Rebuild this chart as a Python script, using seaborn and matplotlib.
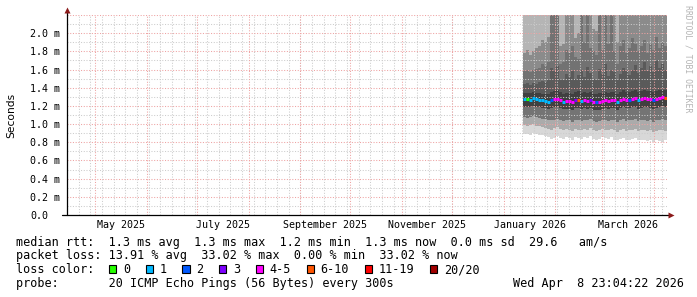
import numpy as np
import pandas as pd
import matplotlib
matplotlib.use("Agg")
import matplotlib.pyplot as plt
import matplotlib.dates as mdates
from matplotlib.patches import Rectangle
import seaborn as sns

sns.set_theme(style="white")
plt.rcParams['font.family'] = ['DejaVu Sans Mono', 'DejaVu Sans']

# ---------------- data (ms) ----------------
median = [1.275, 1.275, 1.27, 1.285, 1.275, 1.27, 1.26, 1.25, 1.245, 1.26,
          1.275, 1.28, 1.26, 1.245, 1.25, 1.25, 1.245, 1.26, 1.265, 1.25,
          1.26, 1.255, 1.265, 1.245, 1.24, 1.245, 1.255, 1.26, 1.25, 1.265,
          1.26, 1.24, 1.265, 1.28, 1.265, 1.265, 1.28, 1.285, 1.26, 1.275,
          1.285, 1.28, 1.275, 1.265, 1.28, 1.285, 1.30, 1.29]
loss = [1, 0, 1, 1, 1, 1, 1, 1, 1, 2,
        4, 5, 4, 1, 4, 5, 4, 3, 6, 1,
        4, 5, 3, 4, 2, 4, 4, 5, 4, 4,
        5, 1, 4, 5, 4, 2, 4, 5, 1, 4,
        4, 5, 4, 2, 4, 5, 4, 6]
ping_max = [2.9, 3.0, 2.9, 3.1, 3.0, 2.9, 3.0, 3.1, 3.0, 3.2,
            3.1, 3.2, 2.9, 3.0, 3.1, 3.0, 3.1, 2.9, 3.0, 3.1,
            3.0, 3.2, 3.0, 2.9, 3.0, 3.1, 3.0, 3.2, 3.1, 3.1,
            3.0, 2.9, 3.0, 3.1, 3.0, 3.0, 3.1, 3.0, 3.0, 3.1,
            3.0, 3.0, 3.1, 3.0, 3.1, 3.0, 3.1, 3.0]
hi4 = [1.78, 1.82, 1.76, 1.80, 1.84, 1.86, 1.92, 1.90, 1.96, 2.80,
       2.70, 2.85, 1.86, 1.88, 2.40, 2.50, 2.45, 1.95, 2.00, 2.60,
       2.45, 2.70, 2.40, 2.05, 2.02, 2.60, 2.45, 2.75, 2.50, 2.65,
       2.40, 1.90, 2.45, 2.50, 2.40, 2.48, 2.55, 2.45, 2.40, 2.50,
       2.45, 2.42, 2.50, 2.40, 2.55, 2.45, 2.50, 2.48]
hi3 = [1.58, 1.60, 1.57, 1.60, 1.61, 1.62, 1.66, 1.64, 1.68, 2.45,
       2.40, 2.50, 1.66, 1.68, 1.82, 1.78, 1.86, 1.74, 1.72, 2.35,
       1.90, 2.40, 1.84, 1.80, 1.76, 2.30, 1.82, 2.45, 1.88, 2.32,
       1.80, 1.66, 1.86, 1.92, 1.78, 1.84, 1.95, 1.88, 1.80, 1.86,
       1.92, 1.78, 1.88, 1.82, 1.96, 1.84, 1.90, 1.86]
hi2 = [1.44, 1.45, 1.43, 1.45, 1.44, 1.46, 1.47, 1.46, 1.48, 1.62,
       1.58, 1.64, 1.50, 1.48, 1.55, 1.52, 1.58, 1.50, 1.54, 1.60,
       1.52, 1.63, 1.56, 1.50, 1.49, 1.61, 1.55, 1.66, 1.53, 1.60,
       1.57, 1.48, 1.55, 1.62, 1.58, 1.54, 1.60, 1.65, 1.56, 1.62,
       1.68, 1.58, 1.64, 1.57, 1.70, 1.62, 1.66, 1.60]
hi1 = [1.34, 1.34, 1.34, 1.35, 1.34, 1.34, 1.33, 1.33, 1.33, 1.35,
       1.36, 1.37, 1.35, 1.33, 1.34, 1.34, 1.33, 1.35, 1.36, 1.34,
       1.35, 1.34, 1.35, 1.33, 1.33, 1.34, 1.34, 1.35, 1.34, 1.35,
       1.35, 1.33, 1.35, 1.37, 1.35, 1.35, 1.36, 1.37, 1.35, 1.36,
       1.37, 1.36, 1.36, 1.35, 1.36, 1.37, 1.38, 1.38]
lo1 = [1.19, 1.19, 1.19, 1.20, 1.19, 1.19, 1.18, 1.18, 1.17, 1.18,
       1.19, 1.19, 1.18, 1.17, 1.17, 1.17, 1.16, 1.18, 1.18, 1.17,
       1.18, 1.17, 1.18, 1.16, 1.16, 1.16, 1.17, 1.18, 1.17, 1.18,
       1.18, 1.16, 1.18, 1.19, 1.18, 1.18, 1.19, 1.19, 1.17, 1.18,
       1.19, 1.19, 1.18, 1.17, 1.18, 1.19, 1.20, 1.19]
lo2 = [1.08, 1.07, 1.08, 1.09, 1.08, 1.07, 1.06, 1.06, 1.05, 1.04,
       1.05, 1.06, 1.04, 1.03, 1.05, 1.04, 1.02, 1.05, 1.04, 1.03,
       1.05, 1.04, 1.06, 1.03, 1.02, 1.03, 1.05, 1.04, 1.03, 1.05,
       1.04, 1.02, 1.04, 1.06, 1.03, 1.04, 1.05, 1.06, 1.03, 1.04,
       1.05, 1.03, 1.04, 1.02, 1.04, 1.05, 1.06, 1.04]
lo3 = [0.99, 0.98, 0.99, 1.00, 0.98, 0.98, 0.97, 0.96, 0.95, 0.94,
       0.96, 0.97, 0.95, 0.93, 0.95, 0.94, 0.92, 0.95, 0.94, 0.93,
       0.95, 0.94, 0.96, 0.93, 0.92, 0.93, 0.95, 0.94, 0.93, 0.95,
       0.93, 0.91, 0.93, 0.95, 0.92, 0.93, 0.94, 0.95, 0.92, 0.93,
       0.94, 0.92, 0.93, 0.91, 0.92, 0.93, 0.94, 0.92]
lo4 = [0.89, 0.89, 0.88, 0.90, 0.89, 0.88, 0.88, 0.87, 0.86, 0.84,
       0.85, 0.87, 0.85, 0.84, 0.86, 0.85, 0.83, 0.86, 0.85, 0.84,
       0.86, 0.85, 0.87, 0.84, 0.83, 0.84, 0.86, 0.85, 0.84, 0.86,
       0.83, 0.82, 0.84, 0.85, 0.82, 0.83, 0.84, 0.85, 0.82, 0.83,
       0.82, 0.81, 0.83, 0.80, 0.82, 0.81, 0.80, 0.82]

loss_labels = ["0", "1", "2", "3", "4-5", "6-10", "11-19", "20/20"]
loss_colors = ["#26ff00", "#00b8ff", "#0059ff", "#7e00ff", "#ff00ff",
               "#ff5500", "#ff0000", "#a10000"]
loss_upper = [0, 1, 2, 3, 5, 10, 19, 20]

y_ticks = [0.0, 0.2, 0.4, 0.6, 0.8, 1.0, 1.2, 1.4, 1.6, 1.8, 2.0]
y_ticklabels = ["0.0", "0.2 m", "0.4 m", "0.6 m", "0.8 m", "1.0 m",
                "1.2 m", "1.4 m", "1.6 m", "1.8 m", "2.0 m"]
x_labels = ["May 2025", "July 2025", "September 2025", "November 2025",
            "January 2026", "March 2026"]
x_label_months = ["2025-05", "2025-07", "2025-09", "2025-11", "2026-01", "2026-03"]

legend_lines = [
    "median rtt:  1.3 ms avg  1.3 ms max  1.2 ms min  1.3 ms now  0.0 ms sd  29.6   am/s",
    "packet loss: 13.91 % avg  33.02 % max  0.00 % min  33.02 % now",
    "loss color:",
    "probe:       20 ICMP Echo Pings (56 Bytes) every 300s",
]
timestamp = "Wed Apr  8 23:04:22 2026"

end_time = pd.Timestamp("2026-04-08 23:04:22")
start_time = end_time - pd.Timedelta(days=360)
data_start = pd.Timestamp("2026-01-12 12:00:00")

# ---------------- figure ----------------
W, H = 697, 297
fig = plt.figure(figsize=(W / 100, H / 100), dpi=100)
fig.patch.set_facecolor("white")


def fx(x):
    return x / W


def fy(y):
    return 1 - y / H


ax = fig.add_axes([fx(67), fy(215), 600 / W, 200 / H])
ax.set_facecolor("white")
ax.set_xlim(mdates.date2num(start_time), mdates.date2num(end_time))
ax.set_ylim(0, 2.2)

n = len(median)
edges = mdates.date2num(pd.date_range(data_start, end_time, periods=n + 1))


def ext(a):
    a = list(a)
    return np.array(a + [a[-1]])


levels = [lo4, lo3, lo2, lo1, hi1, hi2, hi3, hi4, ping_max]
band_colors = ["#d8d8d8", "#ababab", "#747474", "#404040",
               "#5a5a5a", "#727272", "#8b8b8b", "#b5b5b5"]
for i, c in enumerate(band_colors):
    ax.fill_between(edges, ext(levels[i]), ext(levels[i + 1]), step="post",
                    facecolor=c, edgecolor="none", linewidth=0, zorder=1)

# grid
months = pd.date_range("2025-05-01", "2026-04-01", freq="MS")
weeks = pd.date_range(start_time.normalize(), end_time, freq="W-MON")
dot = (0, (1, 1.6))
for w in weeks:
    ax.axvline(mdates.date2num(w), color="#cccccc", lw=0.75, ls=dot, zorder=2.5)
for yv in np.arange(0.1, 2.21, 0.2):
    ax.axhline(yv, color="#cccccc", lw=0.75, ls=dot, zorder=2.5)
for m in months:
    ax.axvline(mdates.date2num(m), color="#eea2a2", lw=0.75, ls=dot, zorder=2.6)
for yv in y_ticks[1:] + [2.2]:
    ax.axhline(yv, color="#eea2a2", lw=0.75, ls=dot, zorder=2.6)


def loss_color(l):
    for up, col in zip(loss_upper, loss_colors):
        if l <= up:
            return col
    return loss_colors[-1]


ax.hlines(median, edges[:-1], edges[1:], colors=[loss_color(l) for l in loss],
          lw=2.2, zorder=3, capstyle="butt")

# ticks
tick_pos = []
for m in x_label_months:
    a = pd.Timestamp(m + "-01")
    b = a + pd.offsets.MonthBegin(1)
    tick_pos.append(mdates.date2num(a + (b - a) / 2))
ax.set_xticks(tick_pos, x_labels)
ax.set_yticks(y_ticks, y_ticklabels)
ax.tick_params(axis="both", length=0, labelsize=7.2, colors="black")
ax.tick_params(axis="x", pad=3.5)
ax.tick_params(axis="y", pad=26.6)
for lab in ax.get_yticklabels():
    lab.set_horizontalalignment("left")
for sp in ax.spines.values():
    sp.set_visible(False)
ax.grid(False)

# axis lines + arrows
ax.plot([-5 / 600, 1 + 3 / 600], [0, 0], transform=ax.transAxes, color="black",
        lw=0.9, clip_on=False, zorder=4)
ax.plot([0, 0], [0, 1 + 4 / 200], transform=ax.transAxes, color="black",
        lw=0.9, clip_on=False, zorder=4)
ax.plot([1 + 4 / 600], [0], transform=ax.transAxes, marker=">", ms=4,
        color="#8b1a1a", clip_on=False, zorder=5, mec="none")
ax.plot([0], [1 + 5 / 200], transform=ax.transAxes, marker="^", ms=4,
        color="#8b1a1a", clip_on=False, zorder=5, mec="none")

# axis title and watermark
fig.text(fx(11), fy(115), "Seconds", rotation=90, ha="center", va="center",
         fontsize=7.7, family="DejaVu Sans", color="black")
fig.text(fx(688), fy(5), "RRDTOOL / TOBI OETIKER", rotation=-90, ha="center",
         va="top", fontsize=5.9, color="#b4b4b4")

# legend
baselines = [245.7, 259.3, 273.2, 286.8]
for txt, b in zip(legend_lines, baselines):
    fig.text(fx(16), fy(b), txt, ha="left", va="baseline", fontsize=8.5,
             color="black")
fig.text(fx(513), fy(baselines[3]), timestamp, ha="left", va="baseline",
         fontsize=8.5, color="black")

cw = 7.1
bx = 109
for lab, col in zip(loss_labels, loss_colors):
    fig.add_artist(Rectangle((fx(bx), fy(272.7)), 7.3 / W, 8.2 / H,
                             transform=fig.transFigure, facecolor=col,
                             edgecolor="black", lw=0.8))
    lx = bx + 14
    fig.text(fx(lx), fy(baselines[2]), lab, ha="left", va="baseline",
             fontsize=8.5, color="black")
    bx = lx + len(lab) * cw + 15.6

fig.savefig("out.png", dpi=100, facecolor="white")
